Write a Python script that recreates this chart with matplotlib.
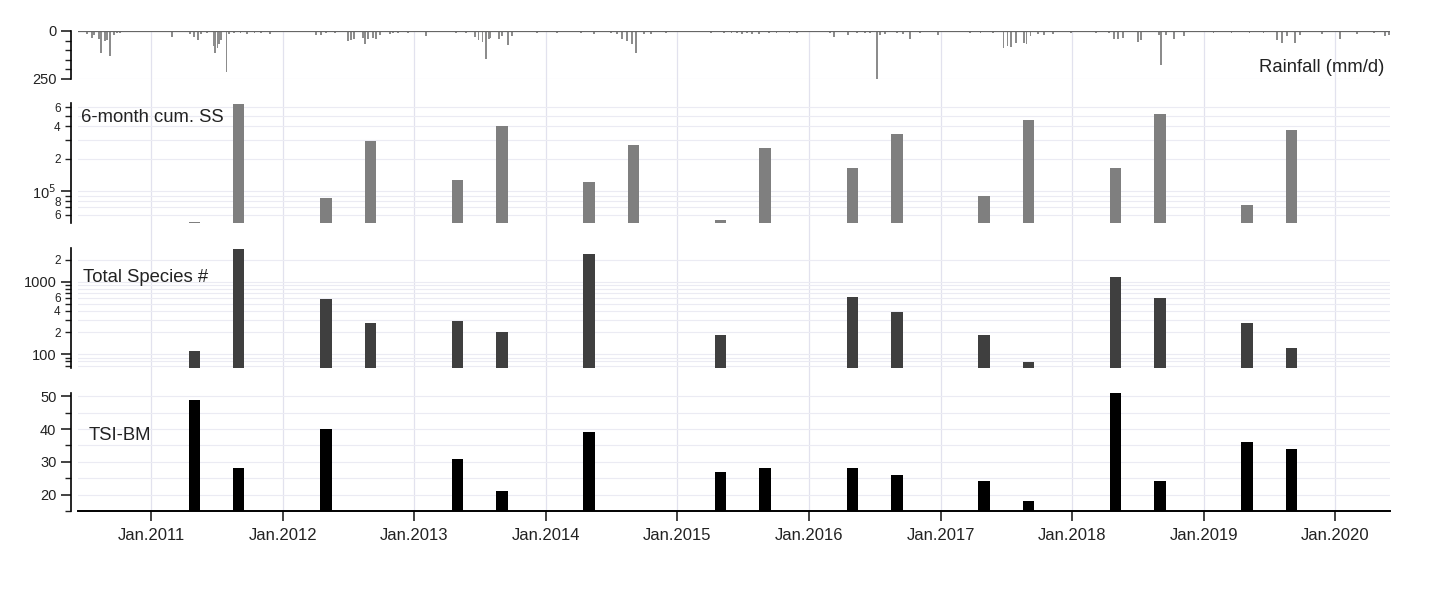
import numpy as np
import pandas as pd
import matplotlib
matplotlib.use("Agg")
from matplotlib import pyplot as plt
import matplotlib.dates as mdates
from matplotlib.ticker import FixedLocator, FixedFormatter, NullFormatter

plt.rcParams['font.family'] = ['Liberation Sans', 'DejaVu Sans']

# sampling campaigns (spring / late summer)
sample_dates = pd.to_datetime([
    "2011-05-01", "2011-09-01", "2012-05-01", "2012-09-01", "2013-05-01", "2013-09-01",
    "2014-05-01", "2014-09-01", "2015-05-01", "2015-09-01", "2016-05-01", "2016-09-01",
    "2017-05-01", "2017-09-01", "2018-05-01", "2018-09-01", "2019-05-01", "2019-09-01",
])
ss_cum = [0.51e5, 6.4e5, 0.85e5, 2.9e5, 1.27e5, 4.0e5, 1.2e5, 2.7e5, 0.53e5, 2.5e5,
          1.63e5, 3.4e5, 0.9e5, 4.6e5, 1.63e5, 5.2e5, 0.73e5, 3.7e5]
species = [113, 2800, 585, 270, 292, 200, 2420, np.nan, 182, 66,
           610, 380, 185, 79, 1170, 600, 270, 121]
tsi_bm = [49, 28, 40, np.nan, 31, 21, 39, np.nan, 27, 28,
          28, 26, 24, 18, 51, 24, 36, 34]

# daily rainfall peaks (mm/d)
rain_dates = pd.to_datetime([
    "2010-07-07", "2010-07-21", "2010-07-26", "2010-08-09", "2010-08-15", "2010-08-26",
    "2010-08-31", "2010-09-09", "2010-09-20", "2010-09-28", "2010-10-07", "2010-11-15",
    "2010-12-13", "2011-02-28", "2011-04-19", "2011-05-01", "2011-05-12", "2011-05-20",
    "2011-06-06", "2011-06-25", "2011-06-28", "2011-07-04", "2011-07-09", "2011-07-15",
    "2011-07-29", "2011-08-06", "2011-08-20", "2011-09-06", "2011-09-25", "2011-10-15",
    "2011-11-01", "2011-11-28", "2012-04-02", "2012-04-16", "2012-04-30", "2012-05-25",
    "2012-06-30", "2012-07-09", "2012-07-17", "2012-08-11", "2012-08-17", "2012-08-25",
    "2012-09-08", "2012-09-16", "2012-09-27", "2012-10-25", "2012-11-03", "2012-11-17",
    "2012-12-15", "2013-02-03", "2013-03-14", "2013-04-27", "2013-05-25", "2013-06-19",
    "2013-06-28", "2013-07-09", "2013-07-18", "2013-07-26", "2013-07-31", "2013-08-23",
    "2013-08-31", "2013-09-17", "2013-09-28", "2013-12-07", "2014-01-31", "2014-04-08",
    "2014-05-14", "2014-07-01", "2014-07-18", "2014-07-31", "2014-08-14", "2014-08-28",
    "2014-09-08", "2014-09-30", "2014-10-20", "2014-11-30", "2015-04-05", "2015-05-11",
    "2015-05-31", "2015-06-16", "2015-06-30", "2015-07-14", "2015-07-28", "2015-08-16",
    "2015-09-13", "2015-10-03", "2015-11-08", "2015-11-28", "2016-02-28", "2016-03-10",
    "2016-04-18", "2016-05-13", "2016-06-04", "2016-06-18", "2016-07-08", "2016-07-16",
    "2016-07-30", "2016-09-02", "2016-09-18", "2016-10-08", "2016-11-05", "2016-12-25",
    "2017-03-24", "2017-04-21", "2017-05-27", "2017-06-24", "2017-07-05", "2017-07-14",
    "2017-07-28", "2017-08-19", "2017-08-27", "2017-09-07", "2017-09-27", "2017-10-14",
    "2017-11-08", "2017-12-28", "2018-03-08", "2018-04-13", "2018-04-27", "2018-05-08",
    "2018-05-22", "2018-07-03", "2018-07-11", "2018-08-30", "2018-09-05", "2018-09-19",
    "2018-10-11", "2018-11-08", "2019-01-28", "2019-03-19", "2019-05-08", "2019-06-16",
    "2019-07-23", "2019-08-06", "2019-08-20", "2019-09-11", "2019-09-25", "2019-11-25",
    "2020-01-14", "2020-03-02", "2020-04-18", "2020-05-19", "2020-05-30",
])
rain_mm = [
    18, 35, 20, 43, 112, 53, 48, 130, 22, 10, 10, 5,
    5, 32, 15, 30, 46, 15, 12, 80, 115, 88, 70, 45,
    216, 15, 10, 8, 16, 10, 12, 15, 22, 20, 12, 8,
    50, 45, 40, 35, 67, 40, 35, 40, 20, 18, 12, 8,
    10, 27, 5, 8, 10, 30, 45, 55, 146, 40, 35, 40,
    25, 71, 25, 10, 8, 12, 15, 10, 15, 40, 50, 70,
    115, 15, 15, 8, 12, 8, 8, 12, 18, 12, 15, 15,
    10, 12, 12, 12, 10, 30, 22, 12, 12, 12, 248, 20,
    15, 12, 15, 40, 12, 22, 8, 10, 10, 89, 80, 85,
    60, 62, 70, 25, 15, 20, 15, 10, 8, 8, 44, 40,
    35, 58, 45, 20, 177, 20, 40, 25, 8, 8, 8, 12,
    45, 65, 25, 60, 20, 15, 40, 15, 10, 25, 20,
]

years = list(range(2011, 2021))
year_ticks = pd.to_datetime([f"{y}-01-01" for y in years])
year_labels = [f"Jan.{y}" for y in years]
x_start, x_end = pd.Timestamp("2010-06-12"), pd.Timestamp("2020-06-01")

W, H = 1448, 589
fig = plt.figure(figsize=(W / 100, H / 100), dpi=100)


def px_axes(x0, y0, x1, y1, **kw):
    return fig.add_axes([x0 / W, 1 - y1 / H, (x1 - x0) / W, (y1 - y0) / H], **kw)


grid_c = "#ebebf3"
label_fs = 13.3
tick_kw = dict(direction="out", width=1.2, colors="#222222", labelsize=10.5)

# background for the full-height vertical grid
ax_bg = px_axes(78, 31, 1390, 511)
ax_bg.set_xlim(x_start, x_end)
for d in year_ticks:
    ax_bg.axvline(d, color="#e2e2ee", lw=0.9)
ax_bg.axis("off")

ax_r = px_axes(78, 31, 1390, 79, sharex=ax_bg)
ax_s = px_axes(78, 103, 1390, 223, sharex=ax_bg)
ax_n = px_axes(78, 248, 1390, 368, sharex=ax_bg)
ax_t = px_axes(78, 393, 1390, 511, sharex=ax_bg)

for ax in (ax_r, ax_s, ax_n, ax_t):
    ax.patch.set_alpha(0)
    ax.set_axisbelow(True)
    for side in ("top", "right", "bottom"):
        ax.spines[side].set_visible(False)
    ax.spines["left"].set_position(("outward", 5))
    ax.spines["left"].set_linewidth(1.2)
    ax.tick_params(axis="y", which="major", length=7, **tick_kw)
    ax.tick_params(axis="y", which="minor", length=4, direction="out", width=1.0,
                   colors="#222222", labelsize=8.5)
    ax.tick_params(axis="x", which="both", bottom=False, labelbottom=False)

# rainfall
ax_r.bar(rain_dates, rain_mm, width=5, color="#8c8c8c", linewidth=0)
ax_r.axhline(0, color="#666666", lw=1.6)
ax_r.set_ylim(250, 0)
ax_r.yaxis.set_major_locator(FixedLocator([0, 250]))
ax_r.yaxis.set_minor_locator(FixedLocator([50, 100, 150, 200]))
ax_r.yaxis.set_minor_formatter(NullFormatter())
ax_r.yaxis.grid(True, which="major", color=grid_c, lw=0.8)
ax_r.text(0.996, 0.23, "Rainfall (mm/d)", transform=ax_r.transAxes,
          ha="right", va="center", fontsize=label_fs, color="#222222")

# 6-month cumulative SS
ss_floor = 5e4
ax_s.set_yscale("log")
ax_s.bar(sample_dates, np.array(ss_cum) - ss_floor, bottom=ss_floor, width=32,
         color="#7f7f7f", linewidth=0)
ax_s.set_ylim(ss_floor, 6.6e5)
ax_s.yaxis.set_major_locator(FixedLocator([1e5]))
ax_s.yaxis.set_major_formatter(FixedFormatter([r"10$^5$"]))
ss_minor = [6e4, 7e4, 8e4, 9e4, 2e5, 3e5, 4e5, 5e5, 6e5]
ax_s.yaxis.set_minor_locator(FixedLocator(ss_minor))
ax_s.yaxis.set_minor_formatter(FixedFormatter(["6", "", "8", "", "2", "", "4", "", "6"]))
ax_s.yaxis.grid(True, which="both", color=grid_c, lw=0.8)
ax_s.text(0.002, 0.875, "6-month cum. SS", transform=ax_s.transAxes,
          ha="left", va="center", fontsize=label_fs, color="#222222")

# total species
sp_floor = 65
ax_n.set_yscale("log")
ax_n.bar(sample_dates, np.array(species) - sp_floor, bottom=sp_floor, width=32,
         color="#3f3f3f", linewidth=0)
ax_n.set_ylim(sp_floor, 2900)
ax_n.yaxis.set_major_locator(FixedLocator([100, 1000]))
ax_n.yaxis.set_major_formatter(FixedFormatter(["100", "1000"]))
sp_minor = [70, 80, 90, 200, 300, 400, 500, 600, 700, 800, 900, 2000]
ax_n.yaxis.set_minor_locator(FixedLocator(sp_minor))
ax_n.yaxis.set_minor_formatter(FixedFormatter(["", "", "", "2", "", "4", "", "6", "", "", "", "2"]))
ax_n.yaxis.grid(True, which="both", color=grid_c, lw=0.8)
ax_n.text(0.004, 0.75, "Total Species #", transform=ax_n.transAxes,
          ha="left", va="center", fontsize=label_fs, color="#222222")

# TSI-BM
ax_t.bar(sample_dates, tsi_bm, width=32, color="black", linewidth=0)
ax_t.set_ylim(15, 51)
ax_t.yaxis.set_major_locator(FixedLocator([20, 30, 40, 50]))
ax_t.yaxis.set_minor_locator(FixedLocator([15, 25, 35, 45]))
ax_t.yaxis.set_minor_formatter(NullFormatter())
ax_t.yaxis.grid(True, which="both", color=grid_c, lw=0.8)
ax_t.spines["bottom"].set_visible(True)
ax_t.spines["bottom"].set_linewidth(1.4)
ax_t.text(0.008, 0.644, "TSI-BM", transform=ax_t.transAxes,
          ha="left", va="center", fontsize=label_fs, color="#222222")
ax_t.tick_params(axis="x", which="major", bottom=True, labelbottom=True, length=7,
                 width=1.2, direction="out", colors="#222222", labelsize=12, pad=5)
ax_t.xaxis.set_major_locator(FixedLocator(mdates.date2num(year_ticks)))
ax_t.xaxis.set_major_formatter(FixedFormatter(year_labels))
ax_t.set_xlim(x_start, x_end)

fig.savefig("out.png", dpi=100)
